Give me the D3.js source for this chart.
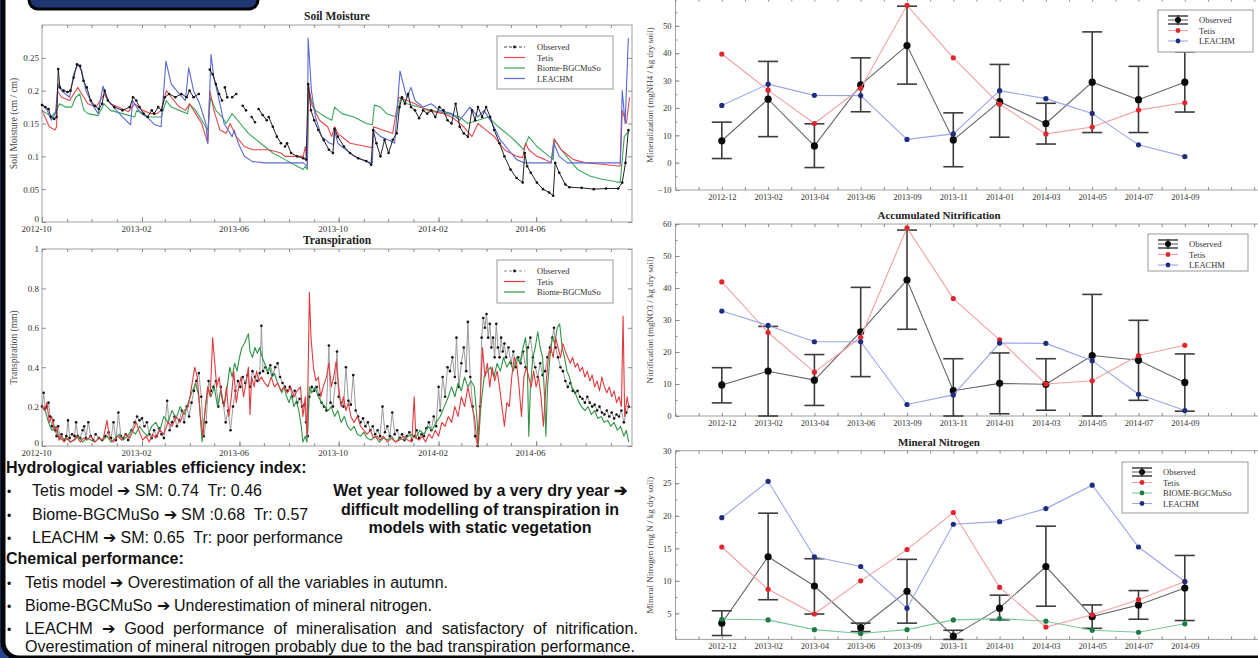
<!DOCTYPE html>
<html>
<head>
<meta charset="utf-8">
<script src="https://cdn.jsdelivr.net/npm/d3@7"></script>
<style>
  body { margin: 0; background: #fff; }
  svg { display: block; }
</style>
</head>
<body>
<svg id="chart" width="1258" height="658"></svg>
<script>
// ---- data read off the poster ----
// daily series are stored as [days since 2012-10-01, value]; null = gap in the record

// Soil Moisture (cm / cm)
var smObserved = [[0,0.178],[4,0.175],[8,0.172],[11,0.16],[15,0.157],[18,0.16],[20,0.233],[22,0.205],[26.5,0.2],[31.5,0.198],[35,0.2],[39,0.22],[43,0.24],[47,0.238],[51,0.215],[55,0.205],[60,0.185],[65,0.177],[70,0.172],[74,0.18],[77,0.2],[81,0.185],[89,0.175],[99,0.17],[108,0.175],[112,0.19],[116,0.185],[120,0.175],[125,0.165],[130,0.16],[135,0.17],[138,0.165],[143,0.175],[147,0.17],[151,0.19],[156.5,0.195],[164,0.19],[171.5,0.195],[178,0.19],[181.5,0.2],[186.5,0.19],[193,0.195],[195,null],
  [206.5,0.232],[210,0.225],[214,0.21],[218,0.195],[221.5,0.185],[223,null],[225,0.205],[228,0.19],[230,null],[234,0.19],[239,0.195],[241,null],[247,0.177],[251,0.17],[253,null],[258,0.16],[262,0.152],[264,null],
  [266.5,0.172],[271.5,0.163],[276.5,0.155],[277.5,null],[279,0.16],[284,0.145],[289,0.13],[294,0.12],[296,null],[299,0.115],[301.5,0.12],[306.5,0.105],[314,0.1],[321.5,0.097],[325,0.095],[327.5,0.21],[331,0.17],[335,0.155],[340,0.14],[346.5,0.125],[353,0.11],[358,0.105],[360,0.142],[364,0.13],[371.5,0.115],[379,0.105],[389,0.097],[399,0.093],[405,0.087],[407.5,0.14],[411.5,0.12],[416.5,0.1],[421.5,0.125],[426.5,0.105],[431.5,0.125],[436.5,0.135],[440,0.175],[443,0.19],[446.5,0.18],[450.5,0.195],[454,0.175],[459,0.17],[464,0.158],[469,0.17],[474,0.165],[479,0.17],[484,0.16],[489,0.175],[494,0.17],[499,0.155],[504,0.15],[509,0.18],[514,0.145],[519,0.135],[524,0.13],[529,0.17],[533,0.155],[536.5,0.175],[541.5,0.16],[546.5,0.175],[551.5,0.16],[556.5,0.14],[563,0.12],[569,0.1],[576.5,0.08],[584,0.067],[591.5,0.06],[594,0.105],[597,0.085],[601.5,0.075],[609,0.06],[616.5,0.05],[624,0.045],[629,0.04],[631.5,0.09],[636.5,0.075],[644,0.057],[649,0.053],[664,0.052],[679,0.05],[694,0.051],[709,0.051],[714,0.06],[718,0.09],[721.5,0.14]];
var smTetis = [[0,0.17],[9,0.145],[16,0.14],[18,0.145],[19,0.2],[24,0.19],[34,0.185],[44,0.205],[49,0.195],[56.5,0.18],[66.5,0.175],[76.5,0.195],[84,0.18],[94,0.175],[106.5,0.168],[114,0.18],[124,0.17],[134,0.165],[141.5,0.165],[146.5,0.17],[153,0.2],[159,0.19],[169,0.175],[176.5,0.17],[181.5,0.18],[189,0.165],[196.5,0.15],[204,0.12],[206.5,0.2],[211.5,0.17],[219,0.14],[226.5,0.135],[231.5,0.15],[239,0.13],[249,0.115],[259,0.11],[279,0.11],[294,0.105],[299,0.1],[314,0.1],[321.5,0.1],[324,0.115],[326.5,0.09],[328,0.21],[331.5,0.18],[341.5,0.155],[351.5,0.145],[356.5,0.13],[360,0.145],[364,0.135],[379,0.12],[399,0.115],[406.5,0.113],[408,0.145],[419,0.14],[431.5,0.135],[439,0.19],[449,0.185],[459,0.18],[474,0.17],[494,0.165],[504,0.16],[519,0.145],[529,0.13],[536.5,0.15],[546.5,0.14],[556.5,0.13],[569,0.11],[584,0.1],[591.5,0.098],[595,0.12],[599,0.11],[609,0.1],[619,0.095],[626.5,0.09],[630,0.127],[639,0.11],[654,0.095],[669,0.09],[689,0.088],[711.5,0.085],[714,0.17],[719,0.15],[723,0.19]];
var smBiome = [[0,0.17],[6,0.165],[11.5,0.16],[18,0.17],[21.5,0.18],[29,0.175],[36.5,0.175],[41.5,0.19],[46.5,0.195],[51.5,0.17],[56.5,0.165],[69,0.162],[76.5,0.18],[84,0.17],[99,0.165],[114,0.16],[116.5,0.17],[129,0.16],[146.5,0.16],[153,0.185],[159,0.175],[169,0.17],[179,0.165],[181.5,0.18],[189,0.17],[199,0.15],[204,0.14],[207.5,0.19],[214,0.17],[221.5,0.16],[226.5,0.15],[234,0.165],[244,0.15],[254,0.135],[269,0.12],[284,0.105],[299,0.095],[314,0.085],[321.5,0.08],[324,0.085],[326.5,0.08],[328,0.205],[331.5,0.185],[336.5,0.17],[349,0.16],[356.5,0.155],[360,0.175],[369,0.165],[384,0.16],[399,0.15],[406.5,0.148],[409,0.178],[416.5,0.175],[424,0.165],[436.5,0.16],[441.5,0.19],[449,0.18],[464,0.175],[479,0.17],[499,0.165],[514,0.16],[524,0.15],[536.5,0.155],[549,0.16],[561.5,0.145],[576.5,0.13],[589,0.115],[592.5,0.11],[599,0.13],[609,0.115],[624,0.1],[629,0.095],[630.5,0.125],[639,0.11],[649,0.095],[659,0.08],[674,0.07],[689,0.065],[704,0.062],[711.5,0.06],[716.5,0.13],[723,0.14]];
var smLeachm = [[0,0.18],[6.5,0.17],[11.5,0.155],[16.5,0.165],[20,0.21],[24,0.2],[29,0.195],[34,0.19],[39,0.225],[44,0.24],[49,0.23],[54,0.2],[61.5,0.18],[69,0.165],[75,0.207],[81.5,0.185],[91.5,0.17],[99,0.16],[109,0.148],[111.5,0.185],[119,0.17],[129,0.16],[139,0.148],[146.5,0.145],[152.5,0.245],[159,0.21],[169,0.195],[176.5,0.185],[180.5,0.235],[186.5,0.2],[194,0.18],[201.5,0.15],[204,0.12],[208,0.255],[211.5,0.22],[219,0.18],[224,0.15],[234,0.13],[236.5,0.14],[241.5,0.12],[249,0.1],[259,0.092],[274,0.09],[321.5,0.09],[326.5,0.085],[327.5,0.28],[331.5,0.2],[336.5,0.16],[344,0.13],[354,0.12],[359,0.118],[360,0.14],[364,0.12],[384,0.1],[399,0.092],[406.5,0.09],[408,0.14],[416.5,0.13],[426.5,0.125],[434,0.12],[440.5,0.23],[446.5,0.2],[449,0.19],[454,0.205],[459,0.185],[469,0.175],[479,0.18],[489,0.17],[504,0.165],[514,0.155],[526.5,0.175],[536.5,0.16],[544,0.17],[554,0.15],[564,0.125],[574,0.11],[584,0.095],[594,0.09],[626.5,0.09],[630,0.12],[636.5,0.1],[646.5,0.09],[711.5,0.09],[714,0.2],[717.5,0.15],[721.5,0.28]];

// Transpiration (mm)
var trObserved = [[0,0.2],[2,0.27],[4,0.19],[6,0.2],[8,0.22],[10,0.15],[12,0.1],[14,0.13],[16,0.08],[18,0.05],[20,0.1],[22,0.04],[24,0.06],[27,0.03],[30,0.05],[32,0.13],[34,0.04],[37,0.06],[40,0.05],[42,0.12],[44,0.05],[47,0.04],[50,0.08],[52,0.1],[54,0.04],[57,0.12],[60,0.05],[63,0.03],[66,0.06],[70,0.04],[74,0.03],[78,0.05],[82,0.07],[85,0.04],[88,0.12],[91,0.03],[94,0.17],[97,0.05],[100,0.04],[103,0.06],[106,0.03],[110,0.08],[114,0.12],[117,0.15],[120,0.13],[123,0.14],[126,0.1],[129,0.12],[132,0.06],[135,0.04],[138,0.08],[141,0.05],[144,0.09],[147,0.06],[150,0.04],[154,0.23],[157,0.08],[160,0.12],[163,0.15],[166,0.1],[169,0.13],[172,0.18],[175,0.12],[178,0.2],[181,0.15],[184,0.22],[187,0.28],[190,0.33],[193,0.37],[196,0.25],[199,0.05],[202,0.12],[205,0.33],[208,0.28],[211,0.3],[214,0.33],[217,0.2],[220,0.3],[223,0.22],[226,0.12],[229,0.18],[232,0.08],[235,0.2],[238,0.28],[241,0.33],[244,0.3],[247,0.35],[250,0.32],[253,0.36],[256,0.3],[259,0.38],[262,0.35],[265,0.33],[268,0.37],[270,0.61],[272,0.38],[275,0.4],[278,0.37],[281,0.41],[284,0.36],[287,0.4],[290,0.42],[293,0.35],[296,0.32],[299,0.3],[302,0.28],[305,0.3],[308,0.25],[311,0.28],[314,0.22],[317,0.24],[320,0.2],[323,0.21],[325,0.12],[327,0.05],[329,0.25],[332,0.3],[335,0.28],[338,0.3],[341,0.26],[344,0.22],[347,0.2],[350,0.18],[353,0.51],[355,0.22],[358,0.2],[361,0.32],[363,0.48],[365,0.25],[368,0.22],[371,0.2],[374,0.4],[377,0.23],[380,0.21],[383,0.36],[386,0.18],[389,0.15],[392,0.12],[395,0.14],[398,0.1],[401,0.12],[404,0.08],[407,0.1],[410,0.06],[413,0.08],[416,0.05],[419,0.2],[422,0.07],[425,0.1],[428,0.05],[431,0.17],[434,0.06],[437,0.08],[440,0.04],[443,0.06],[446,0.03],[449,0.05],[452,0.07],[455,0.03],[458,0.05],[461,0.08],[464,0.04],[467,0.06],[470,0.05],[473,0.09],[476,0.12],[479,0.08],[482,0.15],[485,0.1],[488,0.3],[490,0.18],[493,0.35],[496,0.25],[499,0.4],[502,0.38],[505,0.45],[508,0.35],[510,0.55],[513,0.3],[516,0.42],[519,0.5],[522,0.38],[524,0.63],[527,0.35],[530,0.2],[533,0.05],[536,0.0],[539,0.2],[541,0.55],[543,0.65],[545,0.6],[547,0.67],[549,0.55],[551,0.62],[553,0.5],[555,0.55],[557,0.45],[559,0.62],[561,0.5],[563,0.45],[565,0.55],[567,0.48],[569,0.52],[571,0.45],[574,0.5],[577,0.42],[580,0.48],[583,0.4],[586,0.45],[589,0.42],[592,0.48],[595,0.4],[598,0.5],[601,0.55],[604,0.45],[607,0.4],[610,0.35],[613,0.42],[616,0.36],[619,0.38],[622,0.45],[625,0.5],[628,0.55],[630,0.6],[632,0.5],[635,0.45],[638,0.4],[641,0.38],[644,0.33],[647,0.3],[650,0.32],[653,0.28],[656,0.27],[659,0.28],[662,0.25],[665,0.24],[668,0.22],[671,0.25],[674,0.22],[677,0.2],[680,0.21],[683,0.18],[686,0.2],[689,0.17],[692,0.16],[695,0.18],[698,0.15],[701,0.17],[704,0.14],[707,0.16],[710,0.15],[713,0.18],[716,0.12],[719,0.17],[722,0.2]];
var trTetis = [[0,0.2],[3,0.18],[6,0.22],[9,0.12],[12,0.15],[15,0.08],[18,0.1],[21,0.03],[24,0.05],[27,0.02],[31,0.04],[35,0.02],[39,0.03],[43,0.05],[47,0.02],[51,0.04],[55,0.03],[60,0.05],[65,0.02],[70,0.04],[75,0.03],[80,0.13],[83,0.04],[88,0.02],[93,0.05],[98,0.03],[103,0.06],[108,0.04],[112,0.08],[116,0.12],[120,0.07],[124,0.03],[128,0.05],[132,0.02],[136,0.06],[140,0.04],[145,0.08],[150,0.06],[155,0.12],[160,0.1],[165,0.15],[170,0.12],[175,0.18],[180,0.2],[184,0.3],[188,0.4],[191,0.35],[195,0.15],[198,0.05],[201,0.2],[204,0.3],[207,0.25],[210,0.55],[212,0.45],[215,0.3],[218,0.35],[221,0.25],[224,0.2],[227,0.3],[230,0.15],[233,0.25],[236,0.38],[239,0.22],[242,0.3],[245,0.35],[248,0.25],[251,0.32],[254,0.4],[256,0.16],[258,0.35],[261,0.3],[264,0.38],[267,0.33],[270,0.35],[274,0.32],[278,0.3],[282,0.35],[286,0.3],[290,0.32],[294,0.28],[298,0.3],[302,0.27],[306,0.3],[310,0.25],[314,0.28],[318,0.3],[321,0.15],[324,0.25],[326,0.05],[328,0.5],[329,0.78],[331,0.55],[334,0.4],[337,0.33],[340,0.35],[343,0.25],[346,0.3],[350,0.35],[353,0.42],[356,0.3],[359,0.35],[362,0.43],[365,0.3],[368,0.2],[371,0.25],[374,0.18],[377,0.22],[380,0.15],[384,0.12],[388,0.15],[392,0.1],[396,0.08],[400,0.06],[404,0.08],[408,0.04],[412,0.05],[416,0.03],[420,0.05],[425,0.02],[430,0.04],[435,0.02],[440,0.03],[445,0.05],[450,0.03],[455,0.02],[458,0.25],[460,0.04],[464,0.03],[468,0.05],[472,0.02],[476,0.06],[480,0.04],[484,0.08],[488,0.05],[492,0.12],[496,0.1],[500,0.15],[504,0.12],[508,0.2],[512,0.15],[516,0.25],[520,0.2],[524,0.3],[528,0.22],[532,0.15],[536,0.0],[539,0.2],[542,0.5],[545,0.35],[548,0.42],[551,0.3],[554,0.4],[557,0.33],[560,0.38],[563,0.3],[566,0.2],[569,0.1],[572,0.22],[575,0.2],[578,0.35],[581,0.45],[584,0.42],[587,0.3],[590,0.15],[593,0.35],[596,0.4],[599,0.35],[602,0.3],[605,0.38],[608,0.3],[611,0.35],[614,0.25],[617,0.1],[620,0.3],[623,0.45],[626,0.5],[629,0.45],[632,0.55],[635,0.5],[638,0.45],[641,0.52],[644,0.48],[647,0.45],[650,0.42],[653,0.45],[656,0.4],[659,0.42],[662,0.38],[665,0.4],[668,0.35],[671,0.38],[674,0.33],[677,0.36],[680,0.3],[683,0.33],[686,0.28],[689,0.35],[692,0.3],[695,0.27],[698,0.3],[701,0.25],[704,0.28],[707,0.22],[710,0.25],[713,0.2],[715,0.66],[717,0.15],[720,0.25],[722,0.2]];
var trBiome = [[0,0.2],[4,0.18],[8,0.12],[12,0.08],[16,0.1],[20,0.05],[25,0.03],[30,0.04],[35,0.02],[40,0.03],[45,0.05],[50,0.02],[55,0.04],[60,0.03],[65,0.02],[70,0.04],[75,0.03],[80,0.05],[85,0.02],[90,0.04],[95,0.06],[100,0.03],[105,0.05],[110,0.08],[115,0.06],[120,0.1],[125,0.07],[130,0.05],[135,0.1],[140,0.12],[145,0.08],[150,0.15],[155,0.12],[160,0.18],[165,0.14],[170,0.2],[175,0.16],[180,0.22],[185,0.28],[189,0.32],[193,0.25],[197,0.02],[200,0.15],[204,0.3],[208,0.25],[212,0.3],[216,0.2],[220,0.28],[224,0.2],[228,0.3],[231,0.4],[234,0.35],[237,0.42],[240,0.38],[243,0.45],[246,0.5],[249,0.52],[252,0.55],[254,0.57],[256,0.48],[259,0.45],[262,0.5],[265,0.47],[268,0.5],[271,0.45],[274,0.42],[277,0.38],[280,0.4],[283,0.35],[286,0.37],[289,0.33],[292,0.3],[295,0.27],[298,0.3],[301,0.25],[304,0.22],[307,0.26],[310,0.2],[313,0.23],[316,0.18],[319,0.1],[321,0.02],[324,0.05],[326,0.02],[329,0.3],[332,0.27],[336,0.3],[340,0.25],[344,0.22],[348,0.2],[352,0.18],[356,0.2],[360,0.15],[364,0.18],[368,0.12],[372,0.15],[376,0.1],[380,0.08],[384,0.1],[388,0.06],[392,0.05],[396,0.07],[400,0.04],[405,0.03],[410,0.05],[415,0.02],[420,0.04],[425,0.03],[430,0.05],[435,0.02],[440,0.04],[445,0.03],[450,0.05],[455,0.06],[460,0.04],[465,0.08],[470,0.06],[475,0.1],[480,0.08],[485,0.12],[490,0.15],[495,0.2],[500,0.25],[504,0.3],[508,0.25],[512,0.32],[516,0.28],[520,0.35],[524,0.3],[528,0.33],[532,0.3],[535,0.15],[537,0.01],[540,0.2],[544,0.35],[548,0.38],[552,0.4],[556,0.35],[560,0.42],[564,0.38],[568,0.45],[572,0.4],[576,0.43],[580,0.38],[584,0.45],[588,0.42],[592,0.5],[595,0.55],[597,0.45],[599,0.05],[601,0.3],[604,0.45],[607,0.5],[610,0.58],[613,0.5],[616,0.45],[619,0.2],[620,0.05],[622,0.3],[625,0.45],[628,0.55],[631,0.52],[634,0.6],[637,0.62],[640,0.5],[643,0.45],[646,0.38],[649,0.35],[652,0.3],[655,0.28],[658,0.25],[661,0.22],[664,0.2],[668,0.18],[672,0.2],[676,0.16],[680,0.18],[684,0.14],[688,0.15],[692,0.12],[696,0.13],[700,0.1],[704,0.12],[708,0.08],[712,0.1],[716,0.05],[719,0.08],[722,0.02]];

// sampling campaigns (right column)
var sampleDates = ["2012-12","2013-02","2013-04","2013-06","2013-09","2013-11","2014-01","2014-03","2014-05","2014-07","2014-09"];

// Mineralization (mgNH4 / kg dry soil)
var minObs     = [8, 23.2, 6.1, 28.4, 42.8, 8.3, 22.3, 14.3, 29.4, 23, 29.4];
var minObsLow  = [1.5, 9.5, -1.8, 18.6, 28.7, -1.5, 9.3, 6.8, 11, 11, 18.5];
var minObsHigh = [14.8, 37, 14.2, 38.3, 57.2, 18.2, 35.9, 21.7, 47.8, 35.2, 40.5];
var minTetis   = [39.7, 26.5, 14.3, 27.2, 57.5, 38.3, 21.3, 10.5, 13, 19.2, 21.9];
var minLeachm  = [20.9, 28.7, 24.6, 24.5, 8.5, 10.5, 26.3, 23.4, 18, 6.5, 2.2];

// Accumulated Nitrification (mgNO3 / kg dry soil)
var nitObs     = [9.7, 14, 11.2, 26.3, 42.5, 7.9, 10.2, 9.9, 18.9, 17.4, 10.5];
var nitObsLow  = [4.1, 0, 3.3, 12.3, 27.1, 0, 0.7, 1.8, 0, 4.9, 1.5];
var nitObsHigh = [15.1, 28, 19.2, 40.2, 58.1, 17.9, 19.7, 17.9, 38, 29.9, 19.4];
var nitTetis   = [41.9, 26.1, 13.7, 24.6, 58.8, 36.7, 23.8, 10, 11, 18.9, 22.1];
var nitLeachm  = [32.8, 28.3, 23.2, 23.2, 3.6, 6.6, 22.8, 22.7, 17.3, 6.8, 1.7];

// Mineral Nitrogen (mg N / kg dry soil)
var mnObs     = [3.5, 13.7, 9.2, 2.8, 8.4, 1.5, 5.8, 12.2, 4.5, 6.3, 8.9];
var mnObsLow  = [1.6, 7.1, 4.9, 2.2, 3.5, 1, 4, 6.1, 2.7, 4.1, 3.9];
var mnObsHigh = [5.4, 20.4, 13.4, 3.5, 13.3, 2.4, 7.8, 18.4, 6.3, 8.5, 13.9];
var mnTetis   = [15.2, 8.7, 4.9, 10, 14.8, 20.5, 9, 2.9, 4.8, 7.1, 9.9];
var mnBiome   = [4.1, 4, 2.5, 1.9, 2.5, 4, 4.2, 3.8, 2.4, 2.1, 3.4];
var mnLeachm  = [19.7, 25.3, 13.7, 12.2, 5.8, 18.7, 19.1, 21.1, 24.7, 15.2, 9.9];

// ---- setup ----
var serif = "'Liberation Serif','DejaVu Serif',serif";
var sans = "'Liberation Sans',Arial,sans-serif";
var svg = d3.select("#chart");

var startDate = new Date(2012, 9, 1);
var endDate = new Date(2014, 8, 27);
function toDate(days) {
  return new Date(startDate.getTime() + days * 864e5);
}

// poster background + panel frame
svg.append("rect").attr("width", 1258).attr("height", 658).attr("fill", "#2a4590");
svg.append("rect")
  .attr("x", 3).attr("y", -30)
  .attr("width", 1300).attr("height", 688)
  .attr("rx", 16)
  .attr("fill", "#ffffff")
  .attr("stroke", "#060608")
  .attr("stroke-width", 5);
// heading box cut by the top edge
svg.append("rect")
  .attr("x", 29).attr("y", -14)
  .attr("width", 229).attr("height", 23)
  .attr("rx", 9)
  .attr("fill", "#1f3574")
  .attr("stroke", "#050507")
  .attr("stroke-width", 3);

// ---- time series panels (left column) ----
var monthTicks = d3.timeMonth.range(startDate, endDate);
// labelled every 4 months: Oct, Feb, Jun
var labelTicks = monthTicks.filter(function(d) { return (d.getMonth() + 3) % 4 === 0; });

function timePanel(top, bottom, yMax, yTicks, title, yLabel) {
  var x = d3.scaleTime().domain([startDate, endDate]).range([42, 632]);
  var y = d3.scaleLinear().domain([0, yMax]).range([bottom, top]);
  var g = svg.append("g");

  g.append("rect")
    .attr("x", 42).attr("y", top)
    .attr("width", 590).attr("height", bottom - top)
    .attr("fill", "none").attr("stroke", "#a0a0a0").attr("stroke-width", 1);

  // month ticks on both horizontal sides
  g.append("g").attr("transform", "translate(0," + bottom + ")")
    .call(d3.axisBottom(x).tickValues(monthTicks).tickSize(-3).tickFormat(""));
  g.append("g").attr("transform", "translate(0," + top + ")")
    .call(d3.axisTop(x).tickValues(monthTicks).tickSize(-3).tickFormat(""));
  g.append("g").attr("class", "xlab").attr("transform", "translate(0," + bottom + ")")
    .call(d3.axisBottom(x).tickValues(labelTicks).tickSize(-5).tickPadding(4)
      .tickFormat(d3.timeFormat("%Y-%m")));
  g.selectAll(".xlab text").attr("dx", -6);

  var yAxisG = g.append("g").attr("transform", "translate(42,0)")
    .call(d3.axisLeft(y).tickValues(yTicks).tickSize(-4).tickPadding(3)
      .tickFormat(function(d) { return d3.format("~g")(d); }));
  // the zero label sits just above the corner
  yAxisG.selectAll(".tick text").filter(function(d) { return d === 0; }).attr("dy", "-0.05em");
  g.append("g").attr("transform", "translate(632,0)")
    .call(d3.axisRight(y).tickValues(yTicks).tickSize(-4).tickFormat(""));

  g.selectAll(".domain").remove();
  g.selectAll(".tick line").attr("stroke", "#8a8a8a");
  g.selectAll(".tick text").attr("font-family", serif).attr("font-size", 9).attr("fill", "#333");

  g.append("text")
    .attr("x", 337).attr("y", top - 5)
    .attr("text-anchor", "middle")
    .attr("font-family", serif).attr("font-weight", "bold").attr("font-size", 11.5)
    .attr("fill", "#222")
    .text(title);

  g.append("text")
    .attr("transform", "translate(17," + (top + bottom) / 2 + ")rotate(-90)")
    .attr("text-anchor", "middle")
    .attr("font-family", serif).attr("font-size", 9.5).attr("fill", "#444")
    .text(yLabel);

  return { g: g, x: x, y: y };
}

function drawSeries(p, data, color, width) {
  var line = d3.line()
    .defined(function(d) { return d[1] !== null; })
    .x(function(d) { return p.x(toDate(d[0])); })
    .y(function(d) { return p.y(d[1]); });
  p.g.append("path")
    .datum(data)
    .attr("d", line)
    .attr("fill", "none")
    .attr("stroke", color)
    .attr("stroke-width", width)
    .attr("stroke-linejoin", "round");
}

function drawObserved(p, data, lineColor) {
  drawSeries(p, data, lineColor, 1);
  p.g.selectAll(null)
    .data(data.filter(function(d) { return d[1] !== null; }))
    .enter()
    .append("circle")
    .attr("cx", function(d) { return p.x(toDate(d[0])); })
    .attr("cy", function(d) { return p.y(d[1]); })
    .attr("r", 1.3)
    .attr("fill", "#111");
}

function timeLegend(g, bx, by, bw, bh, items) {
  g.append("rect")
    .attr("x", bx).attr("y", by).attr("width", bw).attr("height", bh)
    .attr("fill", "#fff").attr("stroke", "#999");
  items.forEach(function(it, i) {
    var ly = by + 11 + i * 10.5;
    g.append("line")
      .attr("x1", bx + 7).attr("x2", bx + 28)
      .attr("y1", ly).attr("y2", ly)
      .attr("stroke", it.color).attr("stroke-width", 1.2)
      .attr("stroke-dasharray", it.dots ? "3,2" : null);
    if (it.dots) {
      g.append("circle").attr("cx", bx + 17.5).attr("cy", ly).attr("r", 1.4).attr("fill", "#111");
    }
    g.append("text")
      .attr("x", bx + 40).attr("y", ly + 3)
      .attr("font-family", serif).attr("font-size", 8.5).attr("fill", "#333")
      .text(it.name);
  });
}

// Soil Moisture
var sm = timePanel(25, 222, 0.3, [0, 0.05, 0.1, 0.15, 0.2, 0.25], "Soil Moisture", "Soil Moisture (cm / cm)");
drawSeries(sm, smBiome, "#3aa65c", 1.1);
drawSeries(sm, smTetis, "#e8464c", 1.1);
drawSeries(sm, smLeachm, "#5a69d4", 1.1);
drawObserved(sm, smObserved, "#222");
timeLegend(sm.g, 497, 36, 116, 53, [
  { name: "Observed", color: "#444", dots: true },
  { name: "Tetis", color: "#e8464c" },
  { name: "Biome-BGCMuSo", color: "#3aa65c" },
  { name: "LEACHM", color: "#5a69d4" }
]);

// Transpiration
var tr = timePanel(249, 446, 1, [0, 0.2, 0.4, 0.6, 0.8, 1], "Transpiration", "Transpiration (mm)");
drawObserved(tr, trObserved, "#9a9a9a");
drawSeries(tr, trBiome, "#2e9444", 1.1);
drawSeries(tr, trTetis, "#e23a3e", 1.1);
timeLegend(tr.g, 497, 260, 116, 43, [
  { name: "Observed", color: "#888", dots: true },
  { name: "Tetis", color: "#e23a3e" },
  { name: "Biome-BGCMuSo", color: "#2e9444" }
]);

// ---- sampling panels (right column) ----
var idx = d3.range(sampleDates.length);

function samplePanel(top, bottom, yMin, yMax, yTicks, title, yLabel) {
  var x = d3.scaleLinear().domain([-1, 12]).range([675.5, 675.5 + 13 * 46.3]);
  var y = d3.scaleLinear().domain([yMin, yMax]).range([bottom, top]);
  var g = svg.append("g");

  g.append("rect")
    .attr("x", 675.5).attr("y", top)
    .attr("width", 13 * 46.3).attr("height", bottom - top)
    .attr("fill", "none").attr("stroke", "#a0a0a0");

  var halfSteps = d3.range(-1, 12.01, 0.5);
  g.append("g").attr("transform", "translate(0," + bottom + ")")
    .call(d3.axisBottom(x).tickValues(halfSteps).tickSize(-3).tickFormat(""));
  g.append("g").attr("transform", "translate(0," + top + ")")
    .call(d3.axisTop(x).tickValues(halfSteps).tickSize(-3).tickFormat(""));
  g.append("g").attr("transform", "translate(0," + bottom + ")")
    .call(d3.axisBottom(x).tickValues(idx).tickSize(0).tickPadding(4)
      .tickFormat(function(i) { return sampleDates[i]; }));

  var step = yTicks[1] - yTicks[0];
  var minor = d3.range(yTicks[0] - step / 2, yMax, step / 2).filter(function(v) { return v > yMin; });
  g.append("g").attr("transform", "translate(675.5,0)")
    .call(d3.axisLeft(y).tickValues(minor).tickSize(-2).tickFormat(""));
  g.append("g").attr("transform", "translate(675.5,0)")
    .call(d3.axisLeft(y).tickValues(yTicks).tickSize(-4).tickPadding(4));

  g.selectAll(".domain").remove();
  g.selectAll(".tick line").attr("stroke", "#8a8a8a");
  g.selectAll(".tick text").attr("font-family", serif).attr("font-size", 8.5).attr("fill", "#333");

  if (title) {
    g.append("text")
      .attr("x", 939).attr("y", top - 5)
      .attr("text-anchor", "middle")
      .attr("font-family", serif).attr("font-weight", "bold").attr("font-size", 11)
      .attr("fill", "#222")
      .text(title);
  }
  g.append("text")
    .attr("transform", "translate(653," + (Math.max(top, 0) + bottom) / 2 + ")rotate(-90)")
    .attr("text-anchor", "middle")
    .attr("font-family", serif).attr("font-size", 9).attr("fill", "#444")
    .text(yLabel);

  return { g: g, x: x, y: y };
}

function modelLine(p, values, lineColor, dotColor) {
  var line = d3.line()
    .x(function(d, i) { return p.x(i); })
    .y(function(d) { return p.y(d); });
  p.g.append("path").datum(values)
    .attr("d", line).attr("fill", "none")
    .attr("stroke", lineColor).attr("stroke-width", 1.1);
  p.g.selectAll(null).data(values).enter().append("circle")
    .attr("cx", function(d, i) { return p.x(i); })
    .attr("cy", function(d) { return p.y(d); })
    .attr("r", 2.6).attr("fill", dotColor);
}

function observedBars(p, values, low, high) {
  var line = d3.line()
    .x(function(d, i) { return p.x(i); })
    .y(function(d) { return p.y(d); });
  p.g.append("path").datum(values)
    .attr("d", line).attr("fill", "none")
    .attr("stroke", "#666").attr("stroke-width", 1.1);
  var bars = p.g.selectAll(null).data(idx).enter().append("g").attr("stroke", "#3c3c3c").attr("stroke-width", 1.6);
  bars.append("line")
    .attr("x1", function(i) { return p.x(i); }).attr("x2", function(i) { return p.x(i); })
    .attr("y1", function(i) { return p.y(low[i]); }).attr("y2", function(i) { return p.y(high[i]); });
  [low, high].forEach(function(arr) {
    bars.append("line")
      .attr("x1", function(i) { return p.x(i) - 10; }).attr("x2", function(i) { return p.x(i) + 10; })
      .attr("y1", function(i) { return p.y(arr[i]); }).attr("y2", function(i) { return p.y(arr[i]); });
  });
  p.g.selectAll(null).data(values).enter().append("circle")
    .attr("cx", function(d, i) { return p.x(i); })
    .attr("cy", function(d) { return p.y(d); })
    .attr("r", 3.6).attr("fill", "#0a0a0a");
}

function sampleLegend(g, bx, by, bw, bh, items) {
  g.append("rect")
    .attr("x", bx).attr("y", by).attr("width", bw).attr("height", bh)
    .attr("fill", "#fff").attr("stroke", "#999");
  items.forEach(function(it, i) {
    var ly = by + 10 + i * 10.5;
    var cx = bx + 20;
    if (it.obs) {
      g.append("line").attr("x1", cx - 10).attr("x2", cx + 10).attr("y1", ly).attr("y2", ly).attr("stroke", "#555");
      g.append("line").attr("x1", cx - 10).attr("x2", cx + 10).attr("y1", ly - 4).attr("y2", ly - 4).attr("stroke", "#333").attr("stroke-width", 1.4);
      g.append("line").attr("x1", cx - 10).attr("x2", cx + 10).attr("y1", ly + 4).attr("y2", ly + 4).attr("stroke", "#333").attr("stroke-width", 1.4);
      g.append("line").attr("x1", cx).attr("x2", cx).attr("y1", ly - 5).attr("y2", ly + 5).attr("stroke", "#333").attr("stroke-width", 1.4);
      g.append("circle").attr("cx", cx).attr("cy", ly).attr("r", 3).attr("fill", "#0a0a0a");
    } else {
      g.append("line").attr("x1", cx - 10).attr("x2", cx + 10).attr("y1", ly).attr("y2", ly).attr("stroke", it.line).attr("stroke-width", 1.1);
      g.append("circle").attr("cx", cx).attr("cy", ly).attr("r", 2.4).attr("fill", it.dot);
    }
    g.append("text")
      .attr("x", bx + 41).attr("y", ly + 3)
      .attr("font-family", serif).attr("font-size", 8.5).attr("fill", "#333")
      .text(it.name);
  });
}

var redLine = "#f2a0a2", redDot = "#e0262c";
var blueLine = "#9ca6e6", blueDot = "#1f2d7e";
var greenLine = "#7cc69c", greenDot = "#1f7a48";

// Mineralization
var mi = samplePanel(-1.5, 190, -10, 60, [-10, 0, 10, 20, 30, 40, 50], null, "Mineralization (mgNH4 / kg dry soil)");
observedBars(mi, minObs, minObsLow, minObsHigh);
modelLine(mi, minTetis, redLine, redDot);
modelLine(mi, minLeachm, blueLine, blueDot);
sampleLegend(mi.g, 1158, 10, 95, 42, [
  { name: "Observed", obs: true },
  { name: "Tetis", line: redLine, dot: redDot },
  { name: "LEACHM", line: blueLine, dot: blueDot }
]);

// Accumulated Nitrification
var ni = samplePanel(224, 416, 0, 60, [0, 10, 20, 30, 40, 50, 60], "Accumulated Nitrification", "Nitrification (mgNO3 / kg dry soil)");
observedBars(ni, nitObs, nitObsLow, nitObsHigh);
modelLine(ni, nitTetis, redLine, redDot);
modelLine(ni, nitLeachm, blueLine, blueDot);
sampleLegend(ni.g, 1148, 234, 100, 37, [
  { name: "Observed", obs: true },
  { name: "Tetis", line: redLine, dot: redDot },
  { name: "LEACHM", line: blueLine, dot: blueDot }
]);

// Mineral Nitrogen
var mn = samplePanel(450.7, 639.4, 1, 30, [5, 10, 15, 20, 25, 30], "Mineral Nitrogen", "Mineral Nitrogen (mg N / kg dry soil)");
observedBars(mn, mnObs, mnObsLow, mnObsHigh);
modelLine(mn, mnTetis, redLine, redDot);
modelLine(mn, mnBiome, greenLine, greenDot);
modelLine(mn, mnLeachm, blueLine, blueDot);
sampleLegend(mn.g, 1122, 462, 126, 51, [
  { name: "Observed", obs: true },
  { name: "Tetis", line: redLine, dot: redDot },
  { name: "BIOME-BGCMuSo", line: greenLine, dot: greenDot },
  { name: "LEACHM", line: blueLine, dot: blueDot }
]);

// ---- conclusions text ----
var txt = svg.append("g").attr("font-family", sans).attr("fill", "#111");
var arrow = "\u2794";

txt.append("text").attr("x", 6).attr("y", 473).attr("font-size", 16).attr("font-weight", "bold")
  .text("Hydrological variables efficiency index:");
var hydro = ["Tetis model " + arrow + " SM: 0.74  Tr: 0.46", "Biome-BGCMuSo " + arrow + " SM :0.68  Tr: 0.57", "LEACHM " + arrow + " SM: 0.65  Tr: poor performance"];
hydro.forEach(function(s, i) {
  var by = 496 + i * 23.5;
  txt.append("text").attr("x", 7).attr("y", by).attr("font-size", 12).text("\u2022");
  txt.append("text").attr("x", 32).attr("y", by).attr("font-size", 16).attr("xml:space", "preserve").text(s);
});

txt.append("text").attr("x", 6).attr("y", 564).attr("font-size", 16).attr("font-weight", "bold")
  .text("Chemical performance:");
var chem = [
  "Tetis model " + arrow + " Overestimation of all the variables in autumn.",
  "Biome-BGCMuSo " + arrow + " Underestimation of mineral nitrogen.",
  "LEACHM  " + arrow + "  Good  performance  of  mineralisation  and  satisfactory  of  nitrification."
];
chem.forEach(function(s, i) {
  var by = 588 + i * 23;
  txt.append("text").attr("x", 7).attr("y", by).attr("font-size", 12).text("\u2022");
  var t = txt.append("text").attr("x", 25).attr("y", by).attr("font-size", 16).attr("xml:space", "preserve").text(s);
  if (i === 2) t.attr("textLength", 613).attr("lengthAdjust", "spacingAndGlyphs");
});
txt.append("text").attr("x", 25).attr("y", 652).attr("font-size", 16)
  .attr("textLength", 610).attr("lengthAdjust", "spacingAndGlyphs")
  .text("Overestimation of mineral nitrogen probably due to the bad transpiration performance.");

var note = ["Wet year followed by a very dry year " + arrow, "difficult modelling of transpiration in", "models with static vegetation"];
note.forEach(function(s, i) {
  txt.append("text").attr("x", 480).attr("y", 496 + i * 18.5)
    .attr("text-anchor", "middle").attr("font-size", 16).attr("font-weight", "bold")
    .text(s);
});
</script>
</body>
</html>
